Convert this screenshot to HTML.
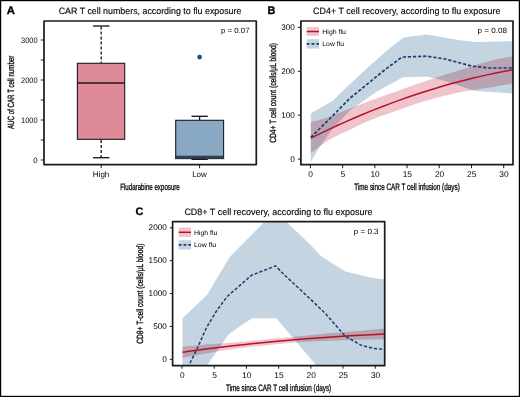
<!DOCTYPE html>
<html><head><meta charset="utf-8"><style>
html,body{margin:0;padding:0;background:#fff;}
svg{display:block;will-change:transform;}
text{font-family:"Liberation Sans", sans-serif;text-rendering:geometricPrecision;}
</style></head><body>
<svg width="520" height="397" viewBox="0 0 520 397">
<rect width="520" height="397" fill="#fff"/>
<rect x="0.6" y="0.6" width="518.8" height="395.8" fill="none" stroke="#000" stroke-width="1.2"/>
<text x="6.7" y="14.4" font-size="10.9" font-weight="bold" textLength="8.2" lengthAdjust="spacingAndGlyphs" fill="#000" stroke="#000" stroke-width="0.35">A</text>
<text x="58.7" y="14.4" font-size="9.2" textLength="182.7" lengthAdjust="spacingAndGlyphs" stroke="#1a1a1a" stroke-width="0.15">CAR T cell numbers, according to flu exposure</text>
<g stroke="#111" stroke-width="1.3" fill="none">
<line x1="101.2" y1="26.5" x2="101.2" y2="63.3" stroke-dasharray="3,2" stroke-width="1.3"/>
<line x1="101.2" y1="140.1" x2="101.2" y2="157.7" stroke-dasharray="3,2" stroke-width="1.3"/>
<line x1="93" y1="26" x2="109.5" y2="26"/>
<line x1="93" y1="157.7" x2="109.5" y2="157.7"/>
</g>
<rect x="77.4" y="63.3" width="47.3" height="76" fill="#DE8A98" stroke="#1a1a1a" stroke-width="1.1"/>
<line x1="77.4" y1="83.1" x2="124.7" y2="83.1" stroke="#1a1a1a" stroke-width="1.5"/>
<g stroke="#111" stroke-width="1.3" fill="none">
<line x1="199.6" y1="116.3" x2="199.6" y2="120.3"/>
<line x1="191.5" y1="116.3" x2="207.8" y2="116.3"/>
<line x1="191.5" y1="159.3" x2="207.8" y2="159.3"/>
</g>
<rect x="175.7" y="120.3" width="47.9" height="38.3" fill="#88A8C4" stroke="#1a1a1a" stroke-width="1.1"/>
<rect x="175.7" y="155.7" width="47.9" height="3" fill="#2e4052"/>
<circle cx="199.6" cy="57.1" r="2.4" fill="#1F4E8C"/>
<rect x="44" y="21" width="212.3" height="143.6" fill="none" stroke="#1a1a1a" stroke-width="1.7" stroke-linejoin="round"/>
<g stroke="#1a1a1a" stroke-width="1">
<line x1="40.8" y1="160" x2="44" y2="160"/>
<line x1="40.8" y1="140" x2="44" y2="140"/>
<line x1="40.8" y1="120" x2="44" y2="120"/>
<line x1="40.8" y1="100" x2="44" y2="100"/>
<line x1="40.8" y1="80" x2="44" y2="80"/>
<line x1="40.8" y1="60" x2="44" y2="60"/>
<line x1="40.8" y1="40" x2="44" y2="40"/>
<line x1="101.2" y1="164.6" x2="101.2" y2="168.2"/>
<line x1="199.6" y1="164.6" x2="199.6" y2="168.2"/>
</g>
<text x="37.6" y="162.6" font-size="7.9" text-anchor="end">0</text>
<text x="37.6" y="122.6" font-size="7.9" text-anchor="end" textLength="16.6" lengthAdjust="spacingAndGlyphs">1000</text>
<text x="37.6" y="82.6" font-size="7.9" text-anchor="end" textLength="16.6" lengthAdjust="spacingAndGlyphs">2000</text>
<text x="37.6" y="42.6" font-size="7.9" text-anchor="end" textLength="16.6" lengthAdjust="spacingAndGlyphs">3000</text>
<text x="101.1" y="176.8" font-size="8" text-anchor="middle">High</text>
<text x="199.5" y="176.8" font-size="8" text-anchor="middle">Low</text>
<text x="150" y="189.7" font-size="9.2" text-anchor="middle" textLength="59.6" lengthAdjust="spacingAndGlyphs" stroke="#111" stroke-width="0.33">Fludarabine exposure</text>
<text x="14.5" y="92.35" font-size="9" text-anchor="middle" textLength="73.3" lengthAdjust="spacingAndGlyphs" transform="rotate(-90 14.5 92.35)" stroke="#111" stroke-width="0.33">AUC of CAR T cell number</text>
<text x="221" y="32.7" font-size="7.7" textLength="28.6" lengthAdjust="spacingAndGlyphs">p = 0.07</text>
<text x="267.6" y="14.2" font-size="10.9" font-weight="bold" fill="#000" stroke="#000" stroke-width="0.35">B</text>
<text x="313.1" y="14.4" font-size="9.2" textLength="187.4" lengthAdjust="spacingAndGlyphs" stroke="#1a1a1a" stroke-width="0.15">CD4+ T cell recovery, according to flu exposure</text>
<defs><clipPath id="cb"><rect x="300.9" y="21" width="212.1" height="143.7"/></clipPath>
<clipPath id="cc"><rect x="172.5" y="221.5" width="212.3" height="144"/></clipPath></defs>
<g clip-path="url(#cb)">
<path d="M310.8,113.5 L333,100.6 L348.9,85 L367.8,67.4 L386.7,50.8 L403.5,37.6 L426.5,34.6 L460,40.3 L476,42 L513,41.2 L513,93.5 L475,91 L442,80 L426.5,76.5 L403,77.3 L376.5,91.8 L350,110.3 L331.5,130.3 L319,148 L310.8,162 Z" fill="#C4D4E0"/>
<path d="M310.8,122.4 C314,121.43 323.47,118.92 330,116.6 C336.53,114.28 341.67,111.72 350,108.5 C358.33,105.28 370,100.97 380,97.3 C390,93.63 401.08,89.63 410,86.5 C418.92,83.37 425.17,81.25 433.5,78.5 C441.83,75.75 450.58,72.93 460,70 C469.42,67.07 481.08,63.2 490,60.9 C498.92,58.6 509.58,56.98 513.5,56.2 L513.5,83.5 C509.58,84.15 498.92,85.93 490,87.4 C481.08,88.87 470,90.25 460,92.3 C450,94.35 438.33,97.43 430,99.7 C421.67,101.97 420,102.48 410,105.9 C400,109.32 380,116.23 370,120.2 C360,124.17 356.67,126.52 350,129.7 C343.33,132.88 336.53,135.38 330,139.3 C323.47,143.22 314,150.88 310.8,153.2 Z" fill="#F0C4CC" style="mix-blend-mode:multiply"/>
<path d="M310.8,138.2 L319.61,133.86 L328.43,129.64 L337.24,125.55 L346.05,121.58 L354.87,117.74 L363.68,114.01 L372.49,110.42 L381.3,106.94 L390.12,103.59 L398.93,100.36 L407.74,97.26 L416.56,94.28 L425.37,91.42 L434.18,88.68 L443,86.07 L451.81,83.59 L460.62,81.22 L469.43,78.98 L478.25,76.87 L487.06,74.87 L495.87,73 L504.69,71.26 L513.5,69.63" fill="none" stroke="#B8102B" stroke-width="1.5"/>
<path d="M310.8,137.4 L330,118.5 L350,98.2 L385,69.7 L401.2,57.6 L404,57 L426.5,56.2 L445,59 L472.4,66.2 L490,68 L513,68" fill="none" stroke="#173E72" stroke-width="1.7" stroke-dasharray="3.2,1.9"/>
</g>
<rect x="300.9" y="21" width="212.1" height="143.7" fill="none" stroke="#1a1a1a" stroke-width="1.7" stroke-linejoin="round"/>
<g stroke="#1a1a1a" stroke-width="1">
<line x1="297.8" y1="159.1" x2="300.9" y2="159.1"/>
<line x1="297.8" y1="115.17" x2="300.9" y2="115.17"/>
<line x1="297.8" y1="71.24" x2="300.9" y2="71.24"/>
<line x1="297.8" y1="27.31" x2="300.9" y2="27.31"/>
<line x1="310.4" y1="164.7" x2="310.4" y2="168.2"/>
<line x1="342.61" y1="164.7" x2="342.61" y2="168.2"/>
<line x1="374.83" y1="164.7" x2="374.83" y2="168.2"/>
<line x1="407.04" y1="164.7" x2="407.04" y2="168.2"/>
<line x1="439.26" y1="164.7" x2="439.26" y2="168.2"/>
<line x1="471.47" y1="164.7" x2="471.47" y2="168.2"/>
<line x1="503.69" y1="164.7" x2="503.69" y2="168.2"/>
</g>
<text x="294.9" y="161.5" font-size="8.2" text-anchor="end">0</text>
<text x="294.9" y="117.57" font-size="8.2" text-anchor="end">100</text>
<text x="294.9" y="73.64" font-size="8.2" text-anchor="end">200</text>
<text x="294.9" y="29.71" font-size="8.2" text-anchor="end">300</text>
<text x="310.7" y="176.8" font-size="8.4" text-anchor="middle">0</text>
<text x="342.91" y="176.8" font-size="8.4" text-anchor="middle">5</text>
<text x="375.13" y="176.8" font-size="8.4" text-anchor="middle">10</text>
<text x="407.34" y="176.8" font-size="8.4" text-anchor="middle">15</text>
<text x="439.56" y="176.8" font-size="8.4" text-anchor="middle">20</text>
<text x="471.77" y="176.8" font-size="8.4" text-anchor="middle">25</text>
<text x="503.99" y="176.8" font-size="8.4" text-anchor="middle">30</text>
<text x="407" y="190.1" font-size="9.4" text-anchor="middle" textLength="105.5" lengthAdjust="spacingAndGlyphs" stroke="#111" stroke-width="0.33">Time since CAR T cell infusion (days)</text>
<text x="275.6" y="92.9" font-size="9" text-anchor="middle" textLength="99.8" lengthAdjust="spacingAndGlyphs" transform="rotate(-90 275.6 92.9)" stroke="#111" stroke-width="0.33">CD4+ T cell count (cells/&#956;L blood)</text>
<text x="477.6" y="32.6" font-size="7.7" textLength="29.5" lengthAdjust="spacingAndGlyphs">p = 0.08</text>
<rect x="306.7" y="26.9" width="12.3" height="9" fill="#F0C4CC"/>
<line x1="306.7" y1="31.5" x2="319" y2="31.5" stroke="#B8102B" stroke-width="1.5"/>
<rect x="306.7" y="39.2" width="12.3" height="9.4" fill="#C4D4E0"/>
<line x1="306.7" y1="43.8" x2="319" y2="43.8" stroke="#173E72" stroke-width="1.7" stroke-dasharray="2.8,2"/>
<text x="322.3" y="33.6" font-size="6.6" textLength="23.7" lengthAdjust="spacingAndGlyphs">High flu</text>
<text x="322.3" y="46.2" font-size="6.6" textLength="21.7" lengthAdjust="spacingAndGlyphs">Low flu</text>
<text x="135.5" y="214.8" font-size="10.9" font-weight="bold" fill="#000" stroke="#000" stroke-width="0.35">C</text>
<text x="184.4" y="215" font-size="9.2" textLength="188" lengthAdjust="spacingAndGlyphs" stroke="#1a1a1a" stroke-width="0.15">CD8+ T cell recovery, according to flu exposure</text>
<g clip-path="url(#cc)">
<path d="M182.5,318.2 L207,295 L229.5,257.3 L264.2,222 L268,216 L283,216 L286.4,222 L310,244.2 L321.1,256.3 L345.3,271.4 L370.5,277.4 L385,279.4 L385,380 L330,380 L316,365 L276.3,318.2 L252.1,318.2 L240,326.3 L228.5,334.4 L207.3,365 L182.5,372 Z" fill="#C4D4E0"/>
<path d="M182.5,346.7 C187.08,346.3 199.58,345.18 210,344.3 C220.42,343.42 233.33,342.45 245,341.4 C256.67,340.35 269.17,339.03 280,338 C290.83,336.97 298.33,336.27 310,335.2 C321.67,334.13 337.5,332.72 350,331.6 C362.5,330.48 379.17,329.02 385,328.5 L385,339.3 C379.17,339.42 362.5,339.62 350,340 C337.5,340.38 321.67,340.93 310,341.6 C298.33,342.27 290.83,343 280,344 C269.17,345 256.67,346.15 245,347.6 C233.33,349.05 220.42,350.98 210,352.7 C199.58,354.42 187.08,357.03 182.5,357.9 Z" fill="#F0C4CC" style="mix-blend-mode:multiply"/>
<path d="M182.5,352.3 C187.08,351.67 199.58,349.8 210,348.5 C220.42,347.2 233.33,345.75 245,344.5 C256.67,343.25 269.17,342.02 280,341 C290.83,339.98 298.33,339.27 310,338.4 C321.67,337.53 337.5,336.55 350,335.8 C362.5,335.05 379.17,334.22 385,333.9" fill="none" stroke="#B8102B" stroke-width="1.5"/>
<path d="M185,372 L189.1,365 L197.2,348.5 L206.3,328 L216.5,311 L227.1,296.6 L251.3,275.4 L275.5,265.9 L285.5,276 L310,298.7 L325.1,313.2 L345.3,336.3 L361.4,345.4 L373.5,348.4 L385,349.4" fill="none" stroke="#173E72" stroke-width="1.5" stroke-dasharray="3.2,1.9"/>
</g>
<rect x="172.6" y="221.6" width="212.1" height="144.1" fill="none" stroke="#1a1a1a" stroke-width="1.7" stroke-linejoin="round"/>
<g stroke="#1a1a1a" stroke-width="1">
<line x1="169.8" y1="359.3" x2="172.6" y2="359.3"/>
<line x1="169.8" y1="326.43" x2="172.6" y2="326.43"/>
<line x1="169.8" y1="293.55" x2="172.6" y2="293.55"/>
<line x1="169.8" y1="260.68" x2="172.6" y2="260.68"/>
<line x1="169.8" y1="227.8" x2="172.6" y2="227.8"/>
<line x1="182" y1="365.7" x2="182" y2="368.7"/>
<line x1="214.22" y1="365.7" x2="214.22" y2="368.7"/>
<line x1="246.43" y1="365.7" x2="246.43" y2="368.7"/>
<line x1="278.64" y1="365.7" x2="278.64" y2="368.7"/>
<line x1="310.86" y1="365.7" x2="310.86" y2="368.7"/>
<line x1="343.07" y1="365.7" x2="343.07" y2="368.7"/>
<line x1="375.29" y1="365.7" x2="375.29" y2="368.7"/>
</g>
<text x="166.8" y="361.9" font-size="8.2" text-anchor="end">0</text>
<text x="166.8" y="329.03" font-size="8.2" text-anchor="end">500</text>
<text x="166.8" y="296.15" font-size="8.2" text-anchor="end">1000</text>
<text x="166.8" y="263.28" font-size="8.2" text-anchor="end">1500</text>
<text x="166.8" y="230.4" font-size="8.2" text-anchor="end">2000</text>
<text x="182.3" y="377.5" font-size="8.4" text-anchor="middle">0</text>
<text x="214.52" y="377.5" font-size="8.4" text-anchor="middle">5</text>
<text x="246.73" y="377.5" font-size="8.4" text-anchor="middle">10</text>
<text x="278.94" y="377.5" font-size="8.4" text-anchor="middle">15</text>
<text x="311.16" y="377.5" font-size="8.4" text-anchor="middle">20</text>
<text x="343.38" y="377.5" font-size="8.4" text-anchor="middle">25</text>
<text x="375.59" y="377.5" font-size="8.4" text-anchor="middle">30</text>
<text x="278.6" y="390.5" font-size="9.4" text-anchor="middle" textLength="105.2" lengthAdjust="spacingAndGlyphs" stroke="#111" stroke-width="0.33">Time since CAR T cell infusion (days)</text>
<text x="143.1" y="293.7" font-size="9" text-anchor="middle" textLength="100.2" lengthAdjust="spacingAndGlyphs" transform="rotate(-90 143.1 293.7)" stroke="#111" stroke-width="0.33">CD8+ T-cell count (cells/&#956;L blood)</text>
<text x="353.8" y="234.1" font-size="7.7" textLength="24.8" lengthAdjust="spacingAndGlyphs">p = 0.3</text>
<rect x="178.7" y="227.5" width="12.3" height="9.4" fill="#F0C4CC"/>
<line x1="178.7" y1="232.3" x2="191" y2="232.3" stroke="#B8102B" stroke-width="1.5"/>
<rect x="178.7" y="240.2" width="12.3" height="9.4" fill="#C4D4E0"/>
<line x1="178.7" y1="244.8" x2="191" y2="244.8" stroke="#173E72" stroke-width="1.7" stroke-dasharray="2.8,2"/>
<text x="193.9" y="234.6" font-size="6.6" textLength="23.4" lengthAdjust="spacingAndGlyphs">High flu</text>
<text x="193.9" y="246.7" font-size="6.6" textLength="22.3" lengthAdjust="spacingAndGlyphs">Low flu</text>
</svg>
</body></html>
